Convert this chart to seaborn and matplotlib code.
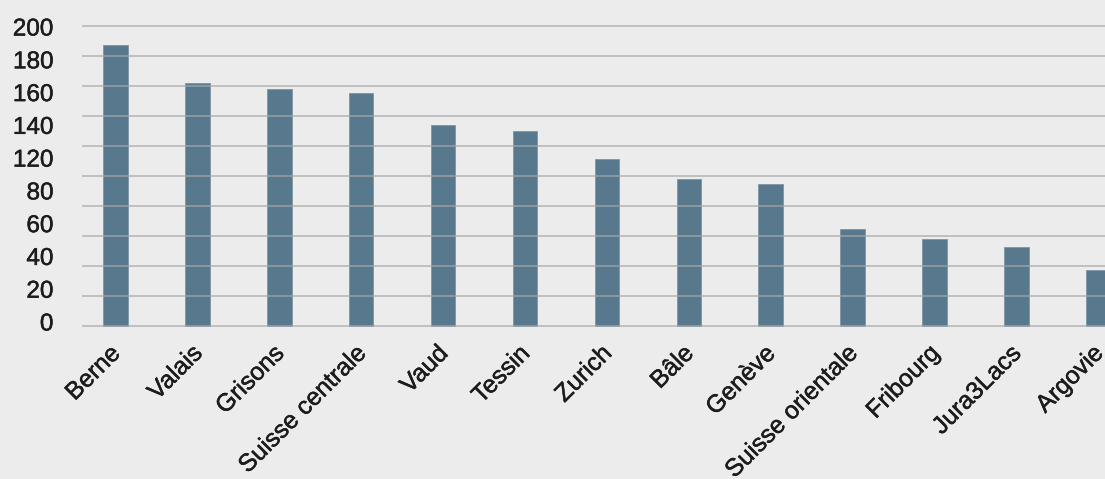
import numpy as np
import pandas as pd
import matplotlib
matplotlib.use("Agg")
import matplotlib.pyplot as plt
import matplotlib.transforms as mtransforms
import matplotlib.patheffects as pe
import seaborn as sns

# Regions and their counts
regions = ["Berne", "Valais", "Grisons", "Suisse centrale", "Vaud", "Tessin",
           "Zurich", "Bâle", "Genève", "Suisse orientale", "Fribourg",
           "Jura3Lacs", "Argovie"]
counts = [187, 162, 158, 155.5, 134, 130, 111, 98, 94.5, 64.5, 58, 52.5, 37.5]

# Axis labels as printed on the left-hand scale
y_tick_labels = ["0", "20", "40", "60", "80", "120", "140", "160", "180", "200"]
grid_values = [0, 20, 40, 60, 80, 100, 120, 140, 160, 180, 200]

BG = "#ECECED"
BAR = "#58798D"
TEXT = "#1C1C1C"

sns.set_style("white")
plt.rcParams["font.family"] = ["Liberation Sans", "DejaVu Sans"]

df = pd.DataFrame({"region": regions, "count": counts})

fig = plt.figure(figsize=(11.05, 4.79), dpi=100, facecolor=BG)
ax = fig.add_axes([82 / 1105, 0.3169, 1 - 82 / 1105, 0.6445])
ax.set_facecolor(BG)

sns.barplot(data=df, x="region", y="count", color=BAR, width=0.3,
            saturation=1, edgecolor="#7E95A3", linewidth=0.6, ax=ax, zorder=2)

ax.set_xlim(-0.409, 12.082)
ax.set_ylim(-1, 205)

# Horizontal rules every 20 units, drawn above the bars
ax.set_axisbelow(False)
ax.set_yticks(grid_values, minor=True)
ax.yaxis.grid(True, which="minor", color="#A8A8A8", alpha=0.7, linewidth=1.3)
ax.yaxis.grid(False, which="major")
for t in ax.yaxis.get_minor_ticks():
    t.gridline.set_zorder(3)

# Slightly heavier strokes on all labels
thick = [pe.withStroke(linewidth=0.35, foreground=TEXT)]

# Scale labels spread evenly down the left side
ax.set_yticks(np.linspace(2.5, 199.3, len(y_tick_labels)))
ax.set_yticklabels(y_tick_labels, fontsize=17.5, color=TEXT)
ax.tick_params(axis="y", which="both", length=0, pad=20.5)
ax.tick_params(axis="x", length=0, pad=14)
for lbl in ax.get_yticklabels():
    lbl.set_path_effects(thick)

ax.set_xticks(range(len(regions)))
ax.set_xticklabels(regions, rotation=45, ha="right", va="center",
                   rotation_mode="anchor", fontsize=17.8, color=TEXT)
shift = mtransforms.ScaledTranslation(1 / 100, -3 / 100, fig.dpi_scale_trans)
for lbl in ax.get_xticklabels():
    lbl.set_transform(lbl.get_transform() + shift)
    lbl.set_path_effects(thick)

ax.set_xlabel("")
ax.set_ylabel("")
for s in ax.spines.values():
    s.set_visible(False)

fig.savefig("out.png", dpi=100, facecolor=BG)
